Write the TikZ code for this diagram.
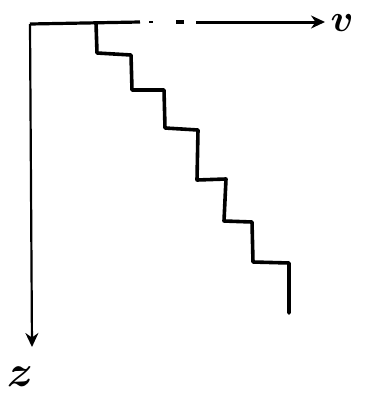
\documentclass[tikz,border=0pt]{standalone}
\usepackage{graphicx}
\usepackage{amsmath}
\usetikzlibrary{arrows.meta}
\begin{document}
\begin{tikzpicture}[x=1pt,y=-1pt,
  axis/.style={line width=2.2pt,-{Stealth[length=14pt,width=13pt]}},
  stair/.style={line width=3.6pt,line join=round,line cap=round},
  lbl/.style={inner sep=0pt}]
\useasboundingbox (0,0) rectangle (365,402);
\coordinate (o) at (30,24);
\coordinate (h1) at (140,22);
\coordinate (d1a) at (149,22);
\coordinate (d1b) at (153,22);
\coordinate (d2a) at (176,22);
\coordinate (d2b) at (184,22);
\coordinate (h2) at (196,22);
\coordinate (vend) at (325,22);
\coordinate (zend) at (32,347);
\node[lbl] (v) at (342,23) {\scalebox{3.8}{$\boldsymbol{v}$}};
\node[lbl] (z) at (20,377) {\scalebox{4.4}{$\boldsymbol{z}$}};
% horizontal axis (partly broken)
\draw[line width=3.2pt] (o) -- (h1);
\draw[line width=1.2pt] (d1a) -- (d1b);
\draw[line width=3.2pt] (d2a) -- (d2b);
\draw[axis,line width=3pt] (h2) -- (vend);
% vertical axis
\draw[axis] (o) -- (zend);
% staircase
\coordinate (s0) at (96,23);
\coordinate (s1) at (97,53);
\coordinate (s2) at (131,55);
\coordinate (s3) at (132,90);
\coordinate (s4) at (164,90);
\coordinate (s5) at (165,128);
\coordinate (s6) at (198,130);
\coordinate (s7) at (197,180);
\coordinate (s8) at (226,179);
\coordinate (s9) at (224,221);
\coordinate (s10) at (252,222);
\coordinate (s11) at (253,262);
\coordinate (s12) at (289,263);
\coordinate (s13) at (289,313);
\draw[stair] (s0) -- (s1) -- (s2) -- (s3) -- (s4) -- (s5) -- (s6) -- (s7)
  -- (s8) -- (s9) -- (s10) -- (s11) -- (s12) -- (s13);
\end{tikzpicture}
\end{document}
